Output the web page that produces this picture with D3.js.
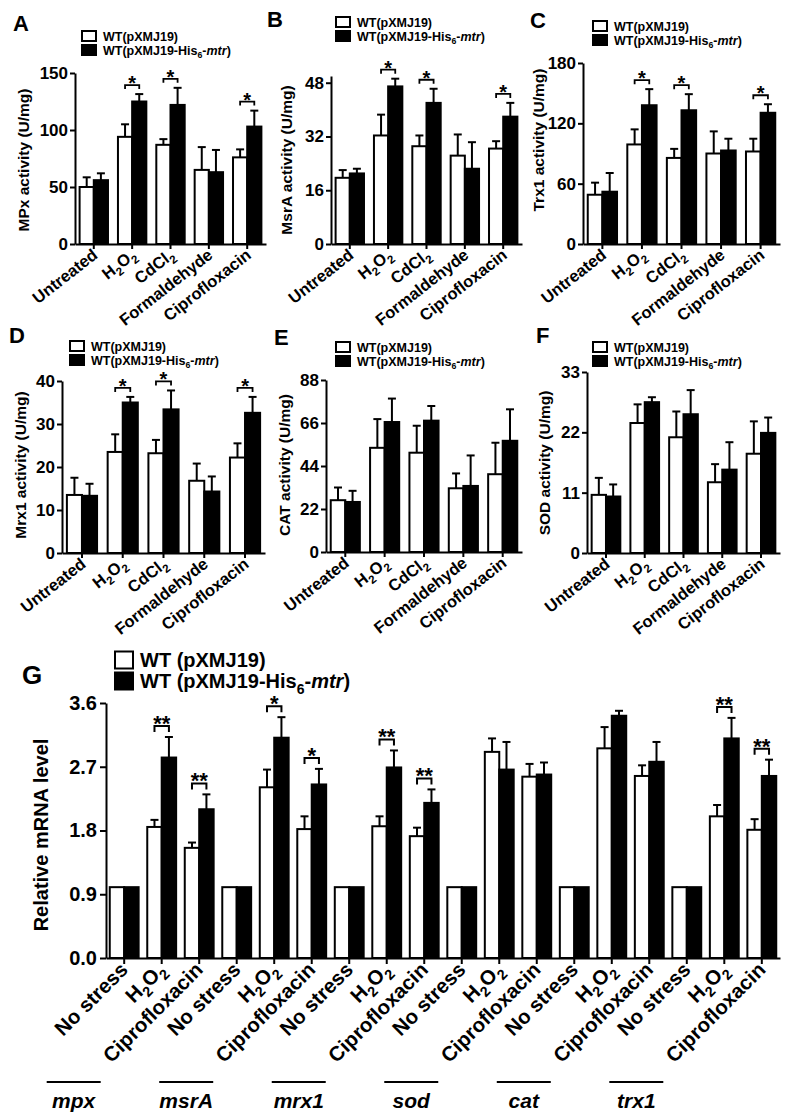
<!DOCTYPE html>
<html><head><meta charset="utf-8">
<script src="https://cdn.jsdelivr.net/npm/d3@7"></script>
<style>
body{margin:0;background:#fff}
svg{display:block}
text{font-family:"Liberation Sans",Arial,Helvetica,sans-serif;font-weight:bold;fill:#000}
</style>
</head><body>
<svg id="fig" width="787" height="1115"></svg>
<script>
// ---------------- DATA ----------------
const activityCategories = ["Untreated","H2O2","CdCl2","Formaldehyde","Ciprofloxacin"];
const legendSmall = ["WT(pXMJ19)","WT(pXMJ19-His6-mtr)"];
const legendLarge = ["WT (pXMJ19)","WT (pXMJ19-His6-mtr)"];

// A: MPx
const mpxWT     = [50, 94, 87, 65, 76];
const mpxWTErr  = [8.5, 11, 5, 20, 7];
const mpxMtr    = [56, 125, 122, 63, 103];
const mpxMtrErr = [6, 6.5, 15, 19.5, 14];
const mpxTicks  = [0, 50, 100, 150];
const mpxStars  = ["H2O2","CdCl2","Ciprofloxacin"];

// B: MsrA
const msrWT     = [19.7, 32.3, 29.1, 26.3, 28.4];
const msrWTErr  = [2.3, 6.2, 3.2, 6.3, 2.2];
const msrMtr    = [21, 46.9, 42, 22.4, 37.9];
const msrMtrErr = [1.4, 2.3, 4.2, 7.9, 4.1];
const msrTicks  = [0, 16, 32, 48];
const msrStars  = ["H2O2","CdCl2","Ciprofloxacin"];

// C: Trx1
const trxWT     = [49, 99, 85.6, 90, 92];
const trxWTErr  = [12, 15, 9, 22, 12.7];
const trxMtr    = [52, 138, 133, 93, 130.5];
const trxMtrErr = [18.6, 16, 16, 11.7, 8.5];
const trxTicks  = [0, 60, 120, 180];
const trxStars  = ["H2O2","CdCl2","Ciprofloxacin"];

// D: Mrx1
const mrxWT     = [13.5, 23.5, 23.2, 16.8, 22.2];
const mrxWTErr  = [4, 4.1, 3.1, 4, 3.3];
const mrxMtr    = [13.3, 35, 33.4, 14.3, 32.6];
const mrxMtrErr = [2.8, 1.3, 4.4, 3.5, 3.7];
const mrxTicks  = [0, 10, 20, 30, 40];
const mrxStars  = ["H2O2","CdCl2","Ciprofloxacin"];

// E: CAT
const catWT     = [26.5, 53.3, 50.8, 32.6, 39.8];
const catWTErr  = [6.5, 14.7, 13.8, 7.6, 16.1];
const catMtr    = [25.6, 66.5, 67.2, 33.8, 56.9];
const catMtrErr = [5.7, 12, 7.5, 15.6, 16.1];
const catTicks  = [0, 22, 44, 66, 88];

// F: SOD
const sodWT     = [10.6, 23.7, 21.1, 12.9, 18.1];
const sodWTErr  = [3.1, 3.4, 4.7, 3.3, 5.9];
const sodMtr    = [10.3, 27.5, 25.3, 15.2, 21.9];
const sodMtrErr = [2.2, 0.9, 4.4, 5, 2.8];
const sodTicks  = [0, 11, 22, 33];

// G: relative mRNA level (18 bars per series: 6 genes x 3 conditions)
const geneNames = ["mpx","msrA","mrx1","sod","cat","trx1"];
const stressConditions = ["No stress","H2O2","Ciprofloxacin"];
const mrnaWT     = [1.0,1.85,1.555, 1.0,2.41,1.82, 1.0,1.86,1.72, 1.0,2.91,2.56, 1.0,2.96,2.57, 1.0,2.0,1.81];
const mrnaWTErr  = [0,0.10,0.075, 0,0.25,0.18, 0,0.14,0.12, 0,0.19,0.18, 0,0.30,0.15, 0,0.16,0.15];
const mrnaMtr    = [1.0,2.83,2.10, 1.0,3.11,2.45, 1.0,2.69,2.19, 1.0,2.66,2.59, 1.0,3.42,2.77, 1.0,3.10,2.57];
const mrnaMtrErr = [0,0.29,0.21, 0,0.29,0.22, 0,0.24,0.19, 0,0.39,0.17, 0,0.07,0.28, 0,0.29,0.23];
const mrnaStarMarks = [null,"**","**", null,"*","*", null,"**","**", null,null,null, null,null,null, null,"**","**"];
const mrnaTicks = [0, 0.9, 1.8, 2.7, 3.6];

// ---------------- HELPERS ----------------
const svg = d3.select("#fig");
const labelParts = {
  "H2O2": [["H"],["2","sub"],["O"],["2","sub"]],
  "CdCl2": [["CdCl"],["2","sub"]],
  "WT(pXMJ19-His6-mtr)": [["WT(pXMJ19-His"],["6","sub"],["-"],["mtr","it"],[")"]],
  "WT (pXMJ19-His6-mtr)": [["WT (pXMJ19-His"],["6","sub"],["-"],["mtr","it"],[")"]]
};
function richText(sel, str, size) {
  const parts = labelParts[str] || [[str]];
  let shifted = false;
  parts.forEach(([t, s]) => {
    const ts = sel.append("tspan").text(t);
    if (s === "sub") {
      ts.attr("font-size", size * 0.7);
      if (!shifted) ts.attr("dy", size * 0.28);
      shifted = true;
    } else {
      if (shifted) { ts.attr("dy", -size * 0.28); shifted = false; }
      if (s === "it") ts.attr("font-style", "italic");
    }
  });
}
function styleAxis(g, size) {
  g.attr("font-family", '"Liberation Sans",Arial,sans-serif').attr("font-weight", "bold").attr("font-size", size);
  g.selectAll("path,line").attr("stroke", "#000").attr("stroke-width", 2);
  g.selectAll("text").attr("fill", "#000");
}
function legend(lx, ly1, ly2, names, box, size) {
  const g = svg.append("g");
  [[ly1, "#fff"], [ly2, "#000"]].forEach(([yy, f], i) => {
    g.append("rect").attr("x", lx).attr("y", yy - box[1] / 2).attr("width", box[0]).attr("height", box[1])
      .attr("fill", f).attr("stroke", "#000").attr("stroke-width", 2);
    const t = g.append("text").attr("x", lx + box[0] + 7).attr("y", yy + size * 0.36).attr("font-size", size);
    richText(t, names[i], size);
  });
}

function activityPanel(o) {
  const g = svg.append("g");
  const x = d3.scaleBand().domain(activityCategories).range([o.x0, o.x1]).paddingInner(0.26).paddingOuter(0.12);
  const sub = d3.scaleBand().domain([0, 1]).range([0, x.bandwidth()]);
  const y = d3.scaleLinear().domain([0, o.max]).range([o.yZero, o.yTop]);
  const series = [
    { v: o.wt, e: o.wtErr, fill: "#fff" },
    { v: o.mtr, e: o.mtrErr, fill: "#000" }
  ];
  series.forEach((s, si) => {
    const cx = c => x(c) + sub(si) + sub.bandwidth() / 2;
    g.selectAll(null).data(activityCategories).join("line")
      .attr("x1", cx).attr("x2", cx)
      .attr("y1", (c, i) => y(s.v[i])).attr("y2", (c, i) => y(s.v[i] + s.e[i]))
      .attr("stroke", "#000").attr("stroke-width", 2);
    g.selectAll(null).data(activityCategories).join("line")
      .attr("x1", c => cx(c) - 4).attr("x2", c => cx(c) + 4)
      .attr("y1", (c, i) => y(s.v[i] + s.e[i])).attr("y2", (c, i) => y(s.v[i] + s.e[i]))
      .attr("stroke", "#000").attr("stroke-width", 2);
    g.selectAll(null).data(activityCategories).join("rect")
      .attr("x", c => x(c) + sub(si)).attr("width", sub.bandwidth())
      .attr("y", (c, i) => y(s.v[i])).attr("height", (c, i) => y(0) - y(s.v[i]))
      .attr("fill", s.fill).attr("stroke", "#000").attr("stroke-width", 2);
  });
  (o.stars || []).forEach(c => {
    const i = activityCategories.indexOf(c);
    const top = Math.max(o.wt[i] + o.wtErr[i], o.mtr[i] + o.mtrErr[i]);
    const yb = y(top) - 9;
    const xa = x(c) + sub(0) + sub.bandwidth() / 2, xb = x(c) + sub(1) + sub.bandwidth() / 2;
    g.append("path").attr("d", `M${xa},${yb + 4}V${yb}H${xb}V${yb + 4}`)
      .attr("fill", "none").attr("stroke", "#000").attr("stroke-width", 1.8);
    g.append("text").attr("x", (xa + xb) / 2).attr("y", yb + 5).attr("text-anchor", "middle")
      .attr("font-size", 20).text("*");
  });
  const ya = g.append("g").attr("transform", `translate(${o.x0},0)`)
    .call(d3.axisLeft(y).tickValues(o.ticks).tickSize(5).tickSizeOuter(0).tickPadding(2));
  styleAxis(ya, 17);
  const xa = g.append("g").attr("transform", `translate(0,${o.yZero})`)
    .call(d3.axisBottom(x).tickSize(5).tickSizeOuter(0).tickFormat(""));
  styleAxis(xa, 16);
  activityCategories.forEach(c => {
    const t = g.append("text").attr("font-size", 16.5).attr("text-anchor", "end")
      .attr("transform", `translate(${x(c) + x.bandwidth() / 2 + 5},${o.yZero + 13}) rotate(-38)`);
    richText(t, c, 16.5);
  });
  g.append("text").attr("font-size", 15.5).attr("text-anchor", "middle")
    .attr("transform", `translate(${o.titleX},${o.titleY}) rotate(-90)`).text(o.title);
  g.append("text").attr("x", o.lx).attr("y", o.ly).attr("font-size", 22).text(o.letter);
  legend(o.legX, o.legY, o.legY + 14, legendSmall, [14, 10], 12.5);
}

// ---------------- PANELS A-F ----------------
activityPanel({letter:"A", lx:13, ly:31, x0:75, x1:266, yZero:244, yTop:73, max:150, ticks:mpxTicks,
  wt:mpxWT, wtErr:mpxWTErr, mtr:mpxMtr, mtrErr:mpxMtrErr, stars:mpxStars,
  title:"MPx activity (U/mg)", titleX:29, titleY:160, legX:82, legY:36});
activityPanel({letter:"B", lx:267, ly:27, x0:331, x1:522, yZero:244, yTop:76, max:50, ticks:msrTicks,
  wt:msrWT, wtErr:msrWTErr, mtr:msrMtr, mtrErr:msrMtrErr, stars:msrStars,
  title:"MsrA activity (U/mg)", titleX:292, titleY:160, legX:336, legY:22});
activityPanel({letter:"C", lx:530, ly:28, x0:583, x1:780, yZero:244, yTop:63, max:180, ticks:trxTicks,
  wt:trxWT, wtErr:trxWTErr, mtr:trxMtr, mtrErr:trxMtrErr, stars:trxStars,
  title:"Trx1 activity (U/mg)", titleX:544, titleY:140, legX:593, legY:26});
activityPanel({letter:"D", lx:9, ly:343, x0:62, x1:265, yZero:553, yTop:381, max:40, ticks:mrxTicks,
  wt:mrxWT, wtErr:mrxWTErr, mtr:mrxMtr, mtrErr:mrxMtrErr, stars:mrxStars,
  title:"Mrx1 activity (U/mg)", titleX:26, titleY:465, legX:70, legY:346});
activityPanel({letter:"E", lx:274, ly:345, x0:326, x1:522, yZero:552, yTop:380, max:88, ticks:catTicks,
  wt:catWT, wtErr:catWTErr, mtr:catMtr, mtrErr:catMtrErr, stars:[],
  title:"CAT activity (U/mg)", titleX:290, titleY:465, legX:336, legY:347});
activityPanel({letter:"F", lx:536, ly:343, x0:587, x1:780, yZero:553, yTop:372, max:33, ticks:sodTicks,
  wt:sodWT, wtErr:sodWTErr, mtr:sodMtr, mtrErr:sodMtrErr, stars:[],
  title:"SOD activity (U/mg)", titleX:550, titleY:463, legX:593, legY:347});

// ---------------- PANEL G ----------------
(function () {
  const g = svg.append("g");
  const keys = [];
  geneNames.forEach(gn => stressConditions.forEach(sc => keys.push(gn + "|" + sc)));
  const x0 = 106, x1 = 780, yZero = 958, yTop = 703;
  const x = d3.scaleBand().domain(keys).range([x0, x1]).paddingInner(0.23).paddingOuter(0.1);
  const sub = d3.scaleBand().domain([0, 1]).range([0, x.bandwidth()]);
  const y = d3.scaleLinear().domain([0, 3.6]).range([yZero, yTop]);
  const series = [
    { v: mrnaWT, e: mrnaWTErr, fill: "#fff" },
    { v: mrnaMtr, e: mrnaMtrErr, fill: "#000" }
  ];
  series.forEach((s, si) => {
    const cx = k => x(k) + sub(si) + sub.bandwidth() / 2;
    const withErr = keys.filter((k, i) => s.e[i] > 0);
    const errTop = k => { const i = keys.indexOf(k); return y(s.v[i] + s.e[i]); };
    g.selectAll(null).data(withErr).join("line")
      .attr("x1", cx).attr("x2", cx)
      .attr("y1", k => y(s.v[keys.indexOf(k)])).attr("y2", errTop)
      .attr("stroke", "#000").attr("stroke-width", 2);
    g.selectAll(null).data(withErr).join("line")
      .attr("x1", k => cx(k) - 4).attr("x2", k => cx(k) + 4)
      .attr("y1", errTop).attr("y2", errTop)
      .attr("stroke", "#000").attr("stroke-width", 2);
    g.selectAll(null).data(keys).join("rect")
      .attr("x", k => x(k) + sub(si)).attr("width", sub.bandwidth())
      .attr("y", (k, i) => y(s.v[i])).attr("height", (k, i) => y(0) - y(s.v[i]))
      .attr("fill", s.fill).attr("stroke", "#000").attr("stroke-width", 2);
  });
  keys.forEach((k, i) => {
    const m = mrnaStarMarks[i];
    if (!m) return;
    const top = Math.max(mrnaWT[i] + mrnaWTErr[i], mrnaMtr[i] + mrnaMtrErr[i]);
    const yb = y(top) - 11;
    const xa = x(k) + sub(0) + sub.bandwidth() / 2, xb = x(k) + sub(1) + sub.bandwidth() / 2;
    g.append("path").attr("d", `M${xa},${yb + 6}V${yb}H${xb}V${yb + 6}`)
      .attr("fill", "none").attr("stroke", "#000").attr("stroke-width", 2);
    g.append("text").attr("x", (xa + xb) / 2).attr("y", yb + 5).attr("text-anchor", "middle")
      .attr("font-size", 22).text(m);
  });
  const ya = g.append("g").attr("transform", `translate(${x0},0)`)
    .call(d3.axisLeft(y).tickValues(mrnaTicks).tickFormat(d3.format(".1f")).tickSize(6).tickSizeOuter(0).tickPadding(3));
  styleAxis(ya, 20);
  const xa = g.append("g").attr("transform", `translate(0,${yZero})`)
    .call(d3.axisBottom(x).tickSize(6).tickSizeOuter(0).tickFormat(""));
  styleAxis(xa, 20);
  keys.forEach(k => {
    const c = k.split("|")[1];
    const t = g.append("text").attr("font-size", 20.5).attr("text-anchor", "end")
      .attr("transform", `translate(${x(k) + x.bandwidth() / 2 + 5},${yZero + 13}) rotate(-45)`);
    richText(t, c, 20.5);
  });
  geneNames.forEach(gn => {
    const mid = x(gn + "|" + stressConditions[1]) + x.bandwidth() / 2 - 88;
    g.append("line").attr("x1", mid - 27).attr("x2", mid + 27).attr("y1", 1082).attr("y2", 1082)
      .attr("stroke", "#000").attr("stroke-width", 2);
    g.append("text").attr("x", mid).attr("y", 1108).attr("text-anchor", "middle")
      .attr("font-size", 21).attr("font-style", "italic").text(gn);
  });
  g.append("text").attr("font-size", 20).attr("text-anchor", "middle")
    .attr("transform", `translate(48,835) rotate(-90)`).text("Relative mRNA level");
  g.append("text").attr("x", 22).attr("y", 684).attr("font-size", 26).text("G");
  legend(115, 660, 681, legendLarge, [18, 17], 20);
})();
</script>
</body></html>
